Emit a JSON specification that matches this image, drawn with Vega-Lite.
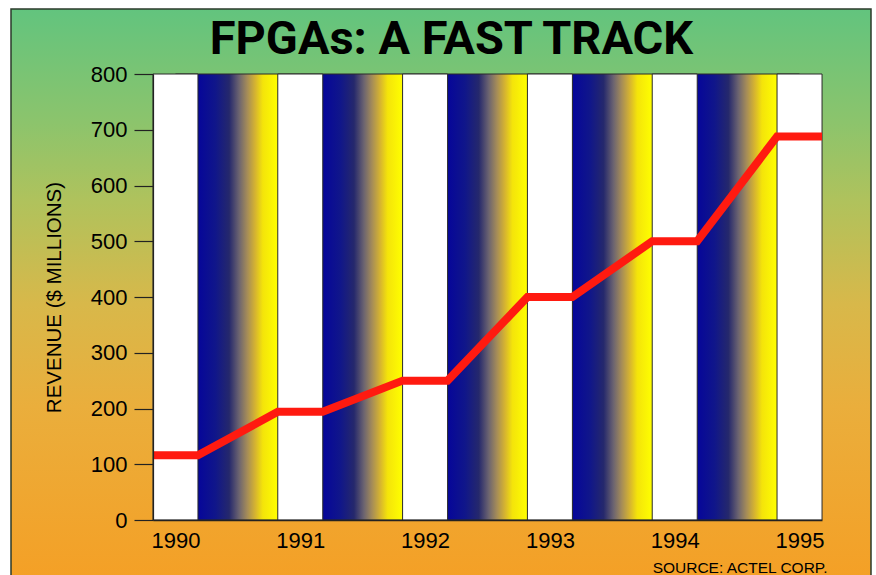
{
  "$schema": "https://vega.github.io/schema/vega-lite/v6.json",
  "width": 669,
  "height": 446,
  "autosize": {"type": "none"},
  "padding": {"left": 153, "top": 74, "right": 54, "bottom": 55},
  "background": "white",
  "title": {
    "text": "FPGAs: A FAST TRACK",
    "font": "Roboto",
    "fontSize": 47,
    "fontWeight": "bold",
    "color": "black",
    "anchor": "middle",
    "frame": "group",
    "dx": -36,
    "dy": 110,
    "baseline": "alphabetic",
    "offset": 17,
    "zindex": 1
  },
  "config": {
    "view": {"stroke": null},
    "font": "Liberation Sans"
  },
  "datasets": {
    "years": [
      {"year": 1990}, {"year": 1991}, {"year": 1992},
      {"year": 1993}, {"year": 1994}, {"year": 1995}
    ],
    "gaps": [
      {"from": 1990, "to": 1991},
      {"from": 1991, "to": 1992},
      {"from": 1992, "to": 1993},
      {"from": 1993, "to": 1994},
      {"from": 1994, "to": 1995}
    ],
    "revenue": [
      {"x": 1989.82, "revenue": 116},
      {"x": 1990.18, "revenue": 116},
      {"x": 1990.82, "revenue": 194},
      {"x": 1991.18, "revenue": 194},
      {"x": 1991.82, "revenue": 250},
      {"x": 1992.18, "revenue": 250},
      {"x": 1992.82, "revenue": 400},
      {"x": 1993.18, "revenue": 400},
      {"x": 1993.82, "revenue": 500},
      {"x": 1994.18, "revenue": 500},
      {"x": 1994.82, "revenue": 688},
      {"x": 1995.18, "revenue": 688}
    ]
  },
  "layer": [
    {
      "data": {"values": [{}]},
      "mark": {
        "type": "rect",
        "stroke": "#2b3a2b",
        "strokeWidth": 1.5,
        "fill": {
          "gradient": "linear",
          "x1": 0, "y1": 0, "x2": 0, "y2": 1,
          "stops": [
            {"offset": 0, "color": "#62c47e"},
            {"offset": 0.2, "color": "#8cc46c"},
            {"offset": 0.34, "color": "#b0c25c"},
            {"offset": 0.52, "color": "#d8b84a"},
            {"offset": 0.7, "color": "#eaae3c"},
            {"offset": 1, "color": "#f4a026"}
          ]
        }
      },
      "encoding": {
        "x": {"value": -142},
        "x2": {"value": 718},
        "y": {"value": -65},
        "y2": {"value": 503}
      }
    },
    {
      "data": {"name": "gaps"},
      "mark": {
        "type": "rect",
        "stroke": "#2a2a2a",
        "strokeWidth": 1,
        "fill": {
          "gradient": "linear",
          "x1": 0, "y1": 0, "x2": 1, "y2": 0,
          "stops": [
            {"offset": 0, "color": "#06069a"},
            {"offset": 0.18, "color": "#06069a"},
            {"offset": 0.32, "color": "#10168a"},
            {"offset": 0.43, "color": "#25286c"},
            {"offset": 0.51, "color": "#6c6470"},
            {"offset": 0.575, "color": "#a58c58"},
            {"offset": 0.64, "color": "#d6b430"},
            {"offset": 0.7, "color": "#f4e40a"},
            {"offset": 0.82, "color": "#ffff00"},
            {"offset": 1, "color": "#ffff00"}
          ]
        }
      },
      "encoding": {
        "x": {
          "field": "from",
          "type": "quantitative",
          "scale": {"domain": [1989.82, 1995.18], "nice": false, "zero": false, "padding": 0},
          "axis": {
            "values": [1990, 1991, 1992, 1993, 1994, 1995],
            "format": "d",
            "ticks": false,
            "grid": false,
            "labelPadding": 10,
            "labelFont": "Liberation Sans",
            "labelFontSize": 22,
            "labelColor": "black",
            "labelFlush": false,
            "domainColor": "#222222",
            "domainWidth": 1.5,
            "title": "SOURCE: ACTEL CORP.",
            "titleFont": "Liberation Sans",
            "titleFontSize": 15.5,
            "titleFontWeight": "normal",
            "titleColor": "black",
            "titleX": 674,
            "titleY": 52,
            "titleAlign": "right",
            "titleBaseline": "alphabetic",
            "zindex": 1
          }
        },
        "x2": {"field": "to"},
        "y": {
          "datum": 0,
          "type": "quantitative",
          "scale": {"domain": [0, 800], "nice": false},
          "axis": {
            "values": [0, 100, 200, 300, 400, 500, 600, 700, 800],
            "grid": false,
            "tickSize": 19,
            "tickColor": "#222222",
            "tickWidth": 1.2,
            "labelPadding": 7,
            "labelFont": "Liberation Sans",
            "labelFontSize": 22,
            "labelColor": "black",
            "labelFlush": false,
            "domainColor": "#222222",
            "domainWidth": 1.2,
            "title": "REVENUE ($ MILLIONS)",
            "titleFont": "Liberation Sans",
            "titleFontSize": 20.5,
            "titleFontWeight": "normal",
            "titleColor": "black",
            "titleX": -93,
            "titleY": 223,
            "titleAngle": -90,
            "titleAlign": "center",
            "titleBaseline": "alphabetic",
            "zindex": 1
          }
        },
        "y2": {"datum": 800}
      }
    },
    {
      "data": {"name": "years"},
      "mark": {"type": "bar", "orient": "vertical", "width": 45, "fill": "white", "stroke": "#2a2a2a", "strokeWidth": 1},
      "encoding": {
        "x": {"field": "year", "type": "quantitative", "scale": {"domain": [1989.82, 1995.18], "nice": false, "zero": false, "padding": 0}},
        "y": {"datum": 800, "type": "quantitative", "scale": {"domain": [0, 800], "nice": false}}
      }
    },
    {
      "data": {"name": "revenue"},
      "mark": {"type": "line", "color": "#ff1a10", "strokeWidth": 8, "strokeJoin": "miter", "strokeCap": "butt"},
      "encoding": {
        "x": {"field": "x", "type": "quantitative", "scale": {"domain": [1989.82, 1995.18], "nice": false, "zero": false, "padding": 0}},
        "y": {"field": "revenue", "type": "quantitative", "scale": {"domain": [0, 800], "nice": false}}
      }
    }
  ]
}
